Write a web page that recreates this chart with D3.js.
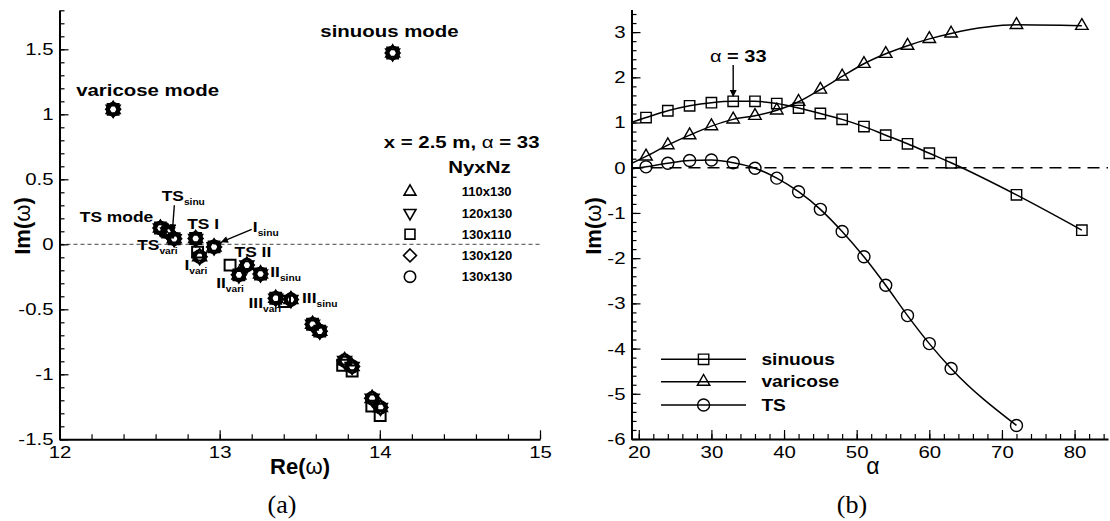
<!DOCTYPE html>
<html><head><meta charset="utf-8">
<script src="https://cdn.jsdelivr.net/npm/d3@7"></script>
<style>
body{margin:0;background:#fff}
svg{display:block;background:#fff}
text{font-family:"Liberation Sans",Arial,Helvetica,sans-serif;fill:#000}
</style></head>
<body><svg id="c" width="1110" height="521"></svg>
<script>
// ---------------- DATA ----------------
// (a) eigenvalue spectrum, x = 2.5 m, alpha = 33, five grid resolutions
const gridLabels = ["110x130","120x130","130x110","130x120","130x130"];
const gridShapes = ["triUp","triDown","square","diamond","circle"];
// grids 110x130, 120x130, 130x120, 130x130 coincide on the picture
const reBase = [12.335,14.08,12.63,12.675,12.716,12.85,12.965,12.875,13.17,13.12,13.255,13.35,13.445,13.58,13.625,13.78,13.827,13.952,14.004];
const imBase = [1.038,1.472,0.125,0.095,0.043,0.044,-0.02,-0.095,-0.16,-0.235,-0.228,-0.415,-0.425,-0.615,-0.668,-0.895,-0.94,-1.185,-1.255];
// grid 130x110 (squares)
const re130x110 = [12.335,14.08,12.63,12.675,12.716,12.85,12.965,12.862,13.065,13.12,13.255,13.35,13.405,13.58,13.625,13.768,13.827,13.95,14.002];
const im130x110 = [1.038,1.472,0.125,0.095,0.043,0.044,-0.02,-0.06,-0.16,-0.235,-0.228,-0.415,-0.44,-0.615,-0.668,-0.93,-0.975,-1.245,-1.318];
const xTicksA = [12,13,14,15];
const yTicksA = [-1.5,-1,-0.5,0,0.5,1,1.5];

// (b) growth rate vs alpha
const alphaSinuous = [18,21,24,27,30,33,36,39,42,45,48,51,54,57,60,63,72,81];
const imSinuous    = [0.95,1.11,1.26,1.37,1.44,1.47,1.47,1.42,1.32,1.20,1.07,0.91,0.72,0.53,0.32,0.11,-0.60,-1.38];
const alphaVaricose = [18,21,24,27,30,33,36,39,42,45,48,51,54,57,60,63,72,81];
const imVaricose    = [0.02,0.25,0.50,0.72,0.92,1.07,1.15,1.27,1.46,1.73,2.02,2.30,2.52,2.70,2.85,2.97,3.16,3.14];
const alphaTS = [18,21,24,27,30,33,36,39,42,45,48,51,54,57,60,63,72];
const imTS    = [-0.05,0.02,0.10,0.16,0.17,0.11,-0.01,-0.23,-0.53,-0.92,-1.41,-1.97,-2.60,-3.27,-3.89,-4.44,-5.70];
const xTicksB = [20,30,40,50,60,70,80];
const yTicksB = [-6,-5,-4,-3,-2,-1,0,1,2,3];
const seriesB = [
  {name:"sinuous", shape:"square", a:alphaSinuous, v:imSinuous},
  {name:"varicose", shape:"triUp", a:alphaVaricose, v:imVaricose},
  {name:"TS", shape:"circle", a:alphaTS, v:imTS}
];

// ---------------- HELPERS ----------------
const svg = d3.select("#c");
const SX = 1.2;
function shapePath(type, k){
  k = k || 1;
  const r = 6*k, h = 5.2*k, a = 12.5*k, d = 6.8*k, ht = a*Math.sqrt(3)/2;
  switch(type){
    case "circle": return `M${r},0A${r},${r},0,1,1,${-r},0A${r},${r},0,1,1,${r},0Z`;
    case "square": return `M${-h},${-h}H${h}V${h}H${-h}Z`;
    case "triUp": return `M0,${-2*ht/3}L${a/2},${ht/3}L${-a/2},${ht/3}Z`;
    case "triDown": return `M0,${2*ht/3}L${a/2},${-ht/3}L${-a/2},${-ht/3}Z`;
    case "diamond": return `M0,${-d}L${d},0L0,${d}L${-d},0Z`;
  }
}
function label(parent, x, y, o){
  const t = parent.append("text")
    .attr("transform", `translate(${x},${y})` + (o.rot ? ` rotate(${o.rot})` : "") + ` scale(${o.sx||1},1)`)
    .attr("text-anchor", o.anchor || "start")
    .style("font-size", o.size + "px")
    .style("font-weight", o.weight || "normal");
  if (o.dy) t.attr("dy", o.dy);
  if (o.family) t.style("font-family", o.family);
  return t;
}
function stretchTicks(g, sx){
  g.selectAll(".tick text").each(function(){
    const t = d3.select(this);
    const x = +t.attr("x") || 0, y = +t.attr("y") || 0;
    t.attr("x", null).attr("y", null).attr("transform", `translate(${x},${y}) scale(${sx},1)`)
     .style("font-size", "17px");
  });
}
function axes(x, y, xMaj, xMin, yMaj, yMin){
  const y0 = y.range()[0], x0 = x.range()[0];
  const g = svg.append("g");
  const style = s => { s.attr("font-family", null).attr("font-size", null);
    s.selectAll(".tick line").attr("stroke", "#000").attr("stroke-width", 1.2); };
  g.append("g").attr("transform", `translate(0,${y0})`)
    .call(d3.axisBottom(x).tickValues(xMin).tickSizeInner(-5).tickSizeOuter(0).tickFormat(""))
    .call(s => s.select(".domain").remove()).call(style);
  g.append("g").attr("transform", `translate(${x0},0)`)
    .call(d3.axisLeft(y).tickValues(yMin).tickSizeInner(-5).tickSizeOuter(0).tickFormat(""))
    .call(s => s.select(".domain").remove()).call(style);
  const gx = g.append("g").attr("transform", `translate(0,${y0})`)
    .call(d3.axisBottom(x).tickValues(xMaj).tickSizeInner(-9).tickSizeOuter(0).tickPadding(7).tickFormat(d => String(d)))
    .call(style);
  const gy = g.append("g").attr("transform", `translate(${x0},0)`)
    .call(d3.axisLeft(y).tickValues(yMaj).tickSizeInner(-9).tickSizeOuter(0).tickPadding(6).tickFormat(d => String(d)))
    .call(style);
  [gx, gy].forEach(s => { s.select(".domain").attr("stroke", "#000").attr("stroke-width", 2); stretchTicks(s, SX); });
}

// ---------------- PANEL (a) ----------------
const xA = d3.scaleLinear([12, 15], [59.5, 540]);
const yA = d3.scaleLinear([-1.5, 1.8], [439.3, 10.3]);
svg.append("line").attr("x1", xA(12)).attr("x2", xA(15)).attr("y1", yA(0)).attr("y2", yA(0))
  .attr("stroke", "#444").attr("stroke-width", 1).attr("stroke-dasharray", "4,3");
axes(xA, yA, xTicksA, d3.range(12, 15.001, 0.2), yTicksA, d3.range(-1.5, 1.801, 0.1));

const gridData = [
  {re: reBase, im: imBase}, {re: reBase, im: imBase}, {re: re130x110, im: im130x110},
  {re: reBase, im: imBase}, {re: reBase, im: imBase}
];
const gPts = svg.append("g");
gridData.forEach((gd, gi) => {
  gPts.selectAll(null).data(gd.re.map((r, i) => [r, gd.im[i]])).join("path")
    .attr("d", shapePath(gridShapes[gi], 1.05))
    .attr("transform", d => `translate(${xA(d[0])},${yA(d[1])})`)
    .attr("fill", "none").attr("stroke", "#000").attr("stroke-width", 2);
});

// mode labels
const gA = svg.append("g");
label(gA, xA(14.06), yA(1.595), {size: 17, weight: "bold", anchor: "middle", sx: SX}).text("sinuous mode");
label(gA, xA(12.55), yA(1.14), {size: 17, weight: "bold", anchor: "middle", sx: SX}).text("varicose mode");
label(gA, xA(12.585), yA(0.175), {size: 14.5, weight: "bold", anchor: "end", sx: SX}).text("TS mode");
label(gA, xA(12.797), yA(0.115), {size: 14.5, weight: "bold", sx: SX}).text("TS I");
label(gA, xA(13.093), yA(-0.1), {size: 14.5, weight: "bold", sx: SX}).text("TS II");
const subLabels = [
  {main: "TS", sub: "sinu", re: 12.638, im: 0.335},
  {main: "I", sub: "sinu", re: 13.207, im: 0.097},
  {main: "TS", sub: "vari", re: 12.485, im: -0.04},
  {main: "I", sub: "vari", re: 12.78, im: -0.195},
  {main: "II", sub: "sinu", re: 13.316, im: -0.249},
  {main: "II", sub: "vari", re: 12.978, im: -0.334},
  {main: "III", sub: "vari", re: 13.18, im: -0.492},
  {main: "III", sub: "sinu", re: 13.514, im: -0.449}
];
subLabels.forEach(s => {
  const t = label(gA, xA(s.re), yA(s.im), {size: 14.5, weight: "bold", sx: SX});
  t.append("tspan").text(s.main);
  t.append("tspan").attr("dy", 4).style("font-size", "8.5px").text(s.sub);
});
// arrows
const defs = svg.append("defs");
defs.append("marker").attr("id", "ah").attr("viewBox", "0 0 10 10").attr("refX", 9).attr("refY", 5)
  .attr("markerWidth", 9).attr("markerHeight", 7).attr("markerUnits", "userSpaceOnUse").attr("orient", "auto")
  .append("path").attr("d", "M0,0L10,5L0,10Z").attr("fill", "#000");
const arrowsA = [
  {from: [12.717, 0.30], to: [12.705, 0.105]},
  {from: [13.2, 0.115], to: [13.012, 0.018]}
];
arrowsA.forEach(a => {
  gA.append("line").attr("x1", xA(a.from[0])).attr("y1", yA(a.from[1]))
    .attr("x2", xA(a.to[0])).attr("y2", yA(a.to[1]))
    .attr("stroke", "#000").attr("stroke-width", 1.4).attr("marker-end", "url(#ah)");
});
// legend (a)
const lt = label(gA, 539.5, 148.3, {size: 17, weight: "bold", anchor: "end", sx: SX});
lt.append("tspan").text("x = 2.5 m, ");
lt.append("tspan").style("font-weight", "normal").text("α");
lt.append("tspan").text(" = 33");
label(gA, 448.3, 173.3, {size: 17, weight: "bold", sx: SX}).text("NyxNz");
gridLabels.forEach((g, i) => {
  const yy = 191.7 + i * 21.25;
  gA.append("path").attr("d", shapePath(gridShapes[i], 0.95)).attr("transform", `translate(410,${yy})`)
    .attr("fill", "none").attr("stroke", "#000").attr("stroke-width", 1.6);
  label(gA, 461.7, yy, {size: 13, weight: "bold", dy: "0.36em"}).text(g);
});
// axis titles (a)
const ta = label(svg, 300, 474, {size: 22, weight: "bold", anchor: "middle"});
ta.append("tspan").text("Re(");
ta.append("tspan").style("font-weight", "normal").text("ω");
ta.append("tspan").text(")");
const tya = label(svg, 30, 226, {size: 22, weight: "bold", anchor: "middle", rot: -90});
tya.append("tspan").text("Im(");
tya.append("tspan").style("font-weight", "normal").text("ω");
tya.append("tspan").text(")");
label(svg, 282, 513, {size: 26, anchor: "middle", family: "'Liberation Serif','DejaVu Serif',serif"}).text("(a)");

// ---------------- PANEL (b) ----------------
const xB = d3.scaleLinear([19, 84.6], [631.5, 1108]);
const yB = d3.scaleLinear([-6, 3.5], [439, 9.5]);
svg.append("line").attr("x1", xB(19)).attr("x2", xB(84.6)).attr("y1", yB(0)).attr("y2", yB(0))
  .attr("stroke", "#000").attr("stroke-width", 1.4).attr("stroke-dasharray", "12,7");
defs.append("clipPath").attr("id", "clipB").append("rect")
  .attr("x", xB(19)).attr("y", 0).attr("width", xB(84.6) - xB(19)).attr("height", yB(-6));
const line = d3.line().curve(d3.curveMonotoneX).x(d => xB(d[0])).y(d => yB(d[1]));
const gB = svg.append("g");
seriesB.forEach(s => {
  const pts = s.a.map((a, i) => [a, s.v[i]]);
  gB.append("path").attr("d", line(pts)).attr("clip-path", "url(#clipB)")
    .attr("fill", "none").attr("stroke", "#000").attr("stroke-width", 1.5);
  gB.selectAll(null).data(pts.filter(p => p[0] >= 19)).join("path")
    .attr("d", shapePath(s.shape, 1.0))
    .attr("transform", p => `translate(${xB(p[0])},${yB(p[1])})`)
    .attr("fill", "none").attr("stroke", "#000").attr("stroke-width", 1.4);
});
axes(xB, yB, xTicksB, d3.range(20, 84.01, 2), yTicksB, d3.range(-6, 3.41, 0.2));
// annotation alpha = 33
const an = label(gB, xB(29.8), yB(2.34), {size: 16, weight: "bold", sx: 1.25});
an.append("tspan").style("font-weight", "normal").text("α");
an.append("tspan").text(" = 33");
gB.append("line").attr("x1", xB(33)).attr("x2", xB(33)).attr("y1", yB(2.27)).attr("y2", yB(1.58))
  .attr("stroke", "#000").attr("stroke-width", 1.4).attr("marker-end", "url(#ah)");
// legend (b)
seriesB.forEach((s, i) => {
  const yy = [359.3, 381.7, 405][i];
  gB.append("line").attr("x1", 661).attr("x2", 746).attr("y1", yy).attr("y2", yy)
    .attr("stroke", "#000").attr("stroke-width", 1.5);
  gB.append("path").attr("d", shapePath(s.shape, 1.0)).attr("transform", `translate(703.6,${yy})`)
    .attr("fill", "none").attr("stroke", "#000").attr("stroke-width", 1.4);
  label(gB, 761.4, yy, {size: 16, weight: "bold", sx: SX, dy: "0.36em"}).text(s.name);
});
// axis titles (b)
label(svg, 873, 474, {size: 23, anchor: "middle"}).text("α");
const tyb = label(svg, 601, 226, {size: 22, weight: "bold", anchor: "middle", rot: -90});
tyb.append("tspan").text("Im(");
tyb.append("tspan").style("font-weight", "normal").text("ω");
tyb.append("tspan").text(")");
label(svg, 852, 513, {size: 26, anchor: "middle", family: "'Liberation Serif','DejaVu Serif',serif"}).text("(b)");
</script>
</body></html>
